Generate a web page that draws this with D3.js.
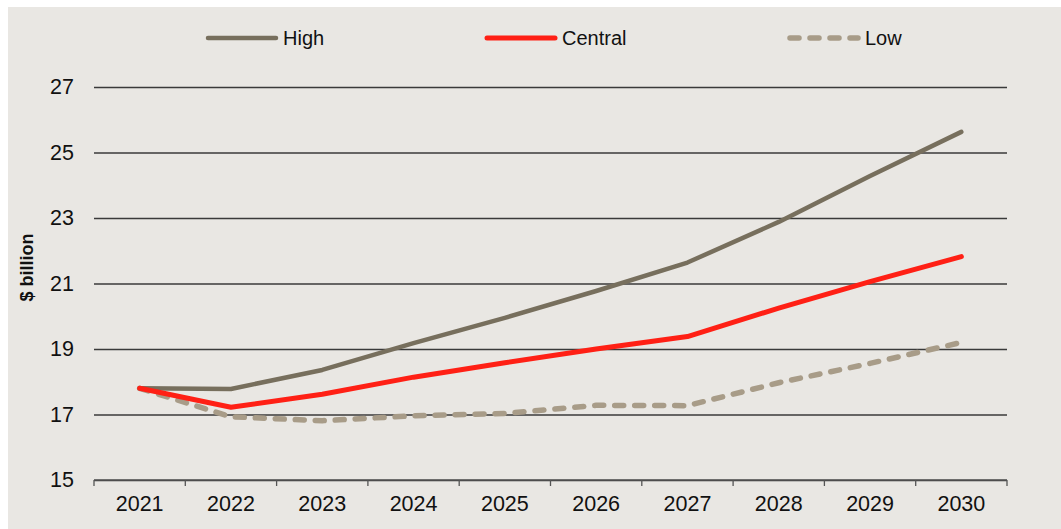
<!DOCTYPE html>
<html>
<head>
<meta charset="utf-8">
<script src="https://cdn.jsdelivr.net/npm/d3@7"></script>
<style>
  html, body { margin: 0; padding: 0; background: #ffffff; }
  svg { display: block; }
  text { font-family: "Liberation Sans", Arial, sans-serif; fill: #111; }
</style>
</head>
<body>
<script>
// Revenue scenarios, $ billion
const years = ["2021", "2022", "2023", "2024", "2025", "2026", "2027", "2028", "2029", "2030"];
const high = [17.8, 17.78, 18.36, 19.18, 19.95, 20.77, 21.64, 22.88, 24.28, 25.63];
const central = [17.8, 17.22, 17.62, 18.14, 18.58, 19.0, 19.38, 20.25, 21.06, 21.82];
const low = [17.8, 16.93, 16.81, 16.96, 17.03, 17.28, 17.27, 17.97, 18.56, 19.2];
const yTicks = [15, 17, 19, 21, 23, 25, 27];
const seriesNames = ["High", "Central", "Low"];

const W = 1061, H = 529;
const margin = { left: 94, right: 54, top: 87, bottom: 49 };

const svg = d3.select("body").append("svg").attr("width", W).attr("height", H);

// panel background
svg.append("rect").attr("x", 8).attr("y", 7).attr("width", W - 8).attr("height", H - 7)
  .attr("fill", "#e9e7e3");

const x = d3.scaleBand().domain(years).range([margin.left, W - margin.right]).padding(0);
const y = d3.scaleLinear().domain([15, 27]).range([H - margin.bottom, margin.top]);

// horizontal gridlines with labels
const yAxis = d3.axisLeft(y).tickValues(yTicks).tickSize(-(W - margin.right - margin.left)).tickPadding(20);
const gy = svg.append("g").attr("transform", `translate(${margin.left},0)`).call(yAxis);
gy.select(".domain").remove();
gy.selectAll(".tick line").attr("stroke", "#3a3a3a").attr("stroke-width", 1.3);
gy.selectAll(".tick text").attr("font-size", 21.5).attr("fill", "#111")
  .attr("font-family", "'Liberation Sans', Arial, sans-serif");

// category axis with tick marks on band edges
const gx = svg.append("g").attr("transform", `translate(0,${H - margin.bottom})`);
gx.append("line").attr("x1", margin.left).attr("x2", W - margin.right)
  .attr("stroke", "#555").attr("stroke-width", 1.3);
const edges = years.map(d => x(d)).concat([x(years[years.length - 1]) + x.bandwidth()]);
gx.selectAll("line.edge").data(edges).join("line").attr("class", "edge")
  .attr("x1", d => d).attr("x2", d => d).attr("y1", 0).attr("y2", 6)
  .attr("stroke", "#555").attr("stroke-width", 1.3);
gx.selectAll("text").data(years).join("text")
  .attr("x", d => x(d) + x.bandwidth() / 2).attr("y", 31)
  .attr("text-anchor", "middle").attr("font-size", 21.5).text(d => d);

// y axis title
svg.append("text")
  .attr("transform", `translate(33,${(y(27) + y(15)) / 2 - 16}) rotate(-90)`)
  .attr("text-anchor", "middle").attr("font-size", 18).attr("font-weight", "bold")
  .text("$ billion");

const cx = d => x(d) + x.bandwidth() / 2;
const line = d3.line().x((v, i) => cx(years[i])).y(v => y(v));

const styles = {
  High: { data: high, color: "#776f5d", width: 4.5, dash: null },
  Central: { data: central, color: "#ff2015", width: 5, dash: null },
  Low: { data: low, color: "#a89c88", width: 5.5, dash: "9,11" }
};

["Low", "High", "Central"].forEach(name => {
  const s = styles[name];
  svg.append("path").datum(s.data).attr("d", line)
    .attr("fill", "none").attr("stroke", s.color).attr("stroke-width", s.width)
    .attr("stroke-linecap", "round").attr("stroke-linejoin", "round")
    .attr("stroke-dasharray", s.dash);
});

// legend
const legendX = [208, 487, 790];
seriesNames.forEach((name, i) => {
  const s = styles[name];
  const g = svg.append("g").attr("transform", `translate(${legendX[i]},38)`);
  g.append("line").attr("x1", 0).attr("x2", 68).attr("y1", 0).attr("y2", 0)
    .attr("stroke", s.color).attr("stroke-width", s.width)
    .attr("stroke-linecap", "round").attr("stroke-dasharray", s.dash);
  g.append("text").attr("x", 75).attr("y", 7).attr("font-size", 20).text(name);
});
</script>
</body>
</html>
